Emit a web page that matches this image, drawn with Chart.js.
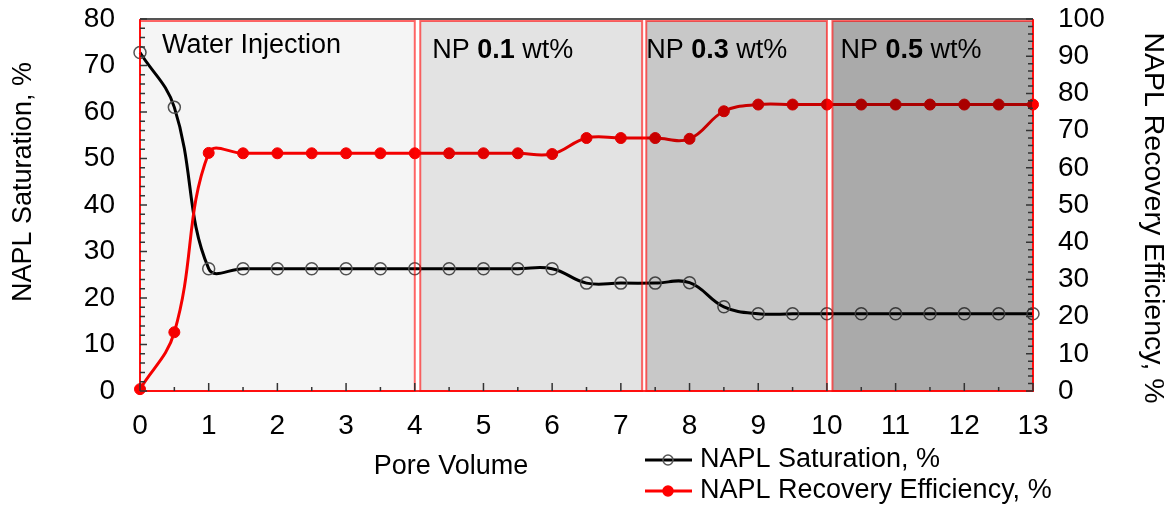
<!DOCTYPE html>
<html>
<head>
<meta charset="utf-8">
<script src="https://cdn.jsdelivr.net/npm/chart.js@4.4.1/dist/chart.umd.min.js"></script>
<style>
  html, body { margin: 0; padding: 0; background: #fff; }
  #wrap { width: 1174px; height: 508px; }
</style>
</head>
<body>
<div id="wrap"><canvas id="chart" width="1174" height="508"></canvas></div>
<script>
// data
const poreVolume = [0, 0.5, 1, 1.5, 2, 2.5, 3, 3.5, 4, 4.5, 5, 5.5, 6, 6.5, 7, 7.5, 8, 8.5, 9, 9.5, 10, 10.5, 11, 11.5, 12, 12.5, 13];
const naplSaturation = [72.8, 61, 26.3, 26.3, 26.3, 26.3, 26.3, 26.3, 26.3, 26.3, 26.3, 26.3, 26.3, 23.2, 23.2, 23.2, 23.3, 18.1, 16.6, 16.6, 16.6, 16.6, 16.6, 16.6, 16.6, 16.6, 16.6];
const recoveryEfficiency = [0.5, 15.8, 64, 63.9, 63.9, 63.9, 63.9, 63.9, 63.9, 63.9, 63.9, 63.9, 63.7, 68, 68, 68, 67.8, 75.2, 77, 77, 77, 77, 77, 77, 77, 77, 77];
const xTicks = [0, 1, 2, 3, 4, 5, 6, 7, 8, 9, 10, 11, 12, 13];
const leftTicks = [0, 10, 20, 30, 40, 50, 60, 70, 80];
const rightTicks = [0, 10, 20, 30, 40, 50, 60, 70, 80, 90, 100];

// injection stages (pore volume ranges)
const phaseStart = [0, 4.08, 7.37, 10.08];
const phaseEnd = [4.0, 7.31, 10.0, 13];
const phaseConc = [null, '0.1', '0.3', '0.5'];

const FONT = '"Liberation Sans", Arial, sans-serif';
const FS = 27;
const TFS = 28; // tick labels

const stagePlugin = {
  id: 'stages',
  afterDatasetsDraw(chart) {
    const { ctx, chartArea: a, scales: { x } } = chart;
    const shade = [0.04, 0.11, 0.215, 0.335];
    const textDx = [22, 12, 0, 8];
    const textY = [46, 51, 51, 51];
    ctx.save();
    phaseStart.forEach((s, i) => {
      const x0 = x.getPixelForValue(s);
      const x1 = x.getPixelForValue(phaseEnd[i]);
      ctx.fillStyle = 'rgba(0,0,0,' + shade[i] + ')';
      ctx.fillRect(x0, a.top + 2, x1 - x0, a.bottom - a.top - 2);
      ctx.strokeStyle = 'rgba(255,0,0,0.6)';
      ctx.lineWidth = 2;
      ctx.strokeRect(x0, a.top + 2, x1 - x0, a.bottom - a.top - 2);
    });
    ctx.fillStyle = '#000';
    ctx.textBaseline = 'middle';
    ctx.textAlign = 'left';
    phaseStart.forEach((s, i) => {
      let px = x.getPixelForValue(s) + textDx[i];
      const py = textY[i];
      if (!phaseConc[i]) {
        ctx.font = FS + 'px ' + FONT;
        ctx.fillText('Water Injection', px, py);
        return;
      }
      const parts = [['NP ', ''], [phaseConc[i], 'bold '], [' wt%', '']];
      parts.forEach(([t, w]) => {
        ctx.font = w + FS + 'px ' + FONT;
        ctx.fillText(t, px, py);
        px += ctx.measureText(t).width;
      });
    });
    ctx.restore();
  },
  afterDraw(chart) {
    const { ctx, chartArea: a, scales: { x, y, y1 } } = chart;
    ctx.save();
    // frame
    ctx.strokeStyle = '#555';
    ctx.lineWidth = 2;
    ctx.beginPath();
    ctx.moveTo(a.left, a.top); ctx.lineTo(a.right, a.top);
    ctx.stroke();
    ctx.strokeStyle = 'rgba(255,0,0,0.85)';
    ctx.beginPath();
    ctx.moveTo(a.left, a.top); ctx.lineTo(a.left, a.bottom);
    ctx.lineTo(a.right, a.bottom); ctx.lineTo(a.right, a.top);
    ctx.stroke();
    // inward ticks
    ctx.strokeStyle = '#333';
    ctx.lineWidth = 1.5;
    ctx.beginPath();
    for (let v = 0; v <= 13; v += 0.5) {
      const px = x.getPixelForValue(v);
      const len = Number.isInteger(v) ? 8 : 4;
      ctx.moveTo(px, a.bottom); ctx.lineTo(px, a.bottom - len);
    }
    for (let v = 0; v <= 80; v += 2) {
      const py = y.getPixelForValue(v);
      const len = v % 10 === 0 ? 7 : 5;
      ctx.moveTo(a.left, py); ctx.lineTo(a.left + len, py);
    }
    for (let v = 0; v <= 100; v += 2) {
      const py = y1.getPixelForValue(v);
      const len = v % 10 === 0 ? 7 : 5;
      ctx.moveTo(a.right, py); ctx.lineTo(a.right - len, py);
    }
    ctx.stroke();

    // axis titles
    ctx.fillStyle = '#000';
    ctx.font = FS + 'px ' + FONT;
    ctx.textAlign = 'center';
    ctx.textBaseline = 'middle';
    ctx.fillText('Pore Volume', 451, 467);
    ctx.save();
    ctx.translate(24, 182);
    ctx.rotate(-Math.PI / 2);
    ctx.fillText('NAPL Saturation, %', 0, 0);
    ctx.restore();
    ctx.save();
    ctx.font = '28.5px ' + FONT;
    ctx.translate(1153, 218);
    ctx.rotate(Math.PI / 2);
    ctx.fillText('NAPL Recovery Efficiency, %', 0, 0);
    ctx.restore();

    // legend
    ctx.textAlign = 'left';
    chart.data.datasets.forEach((ds, i) => {
      const ly = 460 + i * 31;
      ctx.strokeStyle = ds.borderColor;
      ctx.lineWidth = 3;
      ctx.beginPath();
      ctx.moveTo(645, ly); ctx.lineTo(692, ly);
      ctx.stroke();
      ctx.beginPath();
      ctx.arc(668, ly, 5, 0, Math.PI * 2);
      ctx.fillStyle = ds.pointBackgroundColor;
      ctx.fill();
      ctx.lineWidth = 1.5;
      ctx.strokeStyle = ds.pointBorderColor;
      ctx.stroke();
      ctx.fillStyle = '#000';
      ctx.fillText(ds.label, 700, ly);
    });
    ctx.restore();
  }
};

const toPoints = (vals) => vals.map((v, i) => ({ x: poreVolume[i], y: v }));
const noPadV = (s) => { s.paddingTop = 0; s.paddingBottom = 0; };

new Chart(document.getElementById('chart'), {
  type: 'line',
  data: {
    datasets: [
      {
        label: 'NAPL Saturation, %',
        data: toPoints(naplSaturation),
        yAxisID: 'y',
        borderColor: '#000',
        borderWidth: 3,
        pointRadius: 6,
        pointBorderWidth: 1.5,
        pointBorderColor: '#555',
        pointBackgroundColor: 'rgba(255,255,255,0)',
        tension: 0.4,
        clip: false,
        order: 2
      },
      {
        label: 'NAPL Recovery Efficiency, %',
        data: toPoints(recoveryEfficiency),
        yAxisID: 'y1',
        borderColor: '#ff0000',
        borderWidth: 3,
        pointRadius: 5.5,
        pointBorderWidth: 1,
        pointBorderColor: '#ff0000',
        pointBackgroundColor: '#ff0000',
        tension: 0.4,
        clip: false,
        order: 1
      }
    ]
  },
  options: {
    responsive: false,
    animation: false,
    devicePixelRatio: 1,
    layout: { padding: { top: 19, bottom: 0, left: 0, right: 0 } },
    plugins: { legend: { display: false }, tooltip: { enabled: false } },
    scales: {
      x: {
        type: 'linear', min: 0, max: 13,
        grid: { display: false, drawTicks: false },
        border: { display: false },
        afterBuildTicks: (s) => { s.ticks = xTicks.map(v => ({ value: v })); },
        ticks: { color: '#000', font: { family: FONT, size: TFS }, padding: 18, maxRotation: 0, autoSkip: false },
        afterFit: (s) => { s.height = 117; s.paddingLeft = 0; s.paddingRight = 0; }
      },
      y: {
        position: 'left', min: 0, max: 80,
        grid: { display: false, drawTicks: false },
        border: { display: false },
        afterBuildTicks: (s) => { s.ticks = leftTicks.map(v => ({ value: v })); },
        ticks: { color: '#000', font: { family: FONT, size: TFS }, padding: 25, autoSkip: false },
        afterFit: (s) => { s.width = 140; noPadV(s); }
      },
      y1: {
        position: 'right', min: 0, max: 100,
        grid: { display: false, drawTicks: false },
        border: { display: false },
        afterBuildTicks: (s) => { s.ticks = rightTicks.map(v => ({ value: v })); },
        ticks: { color: '#000', font: { family: FONT, size: TFS }, padding: 25, autoSkip: false },
        afterFit: (s) => { s.width = 141; noPadV(s); }
      }
    }
  },
  plugins: [stagePlugin]
});
</script>
</body>
</html>
